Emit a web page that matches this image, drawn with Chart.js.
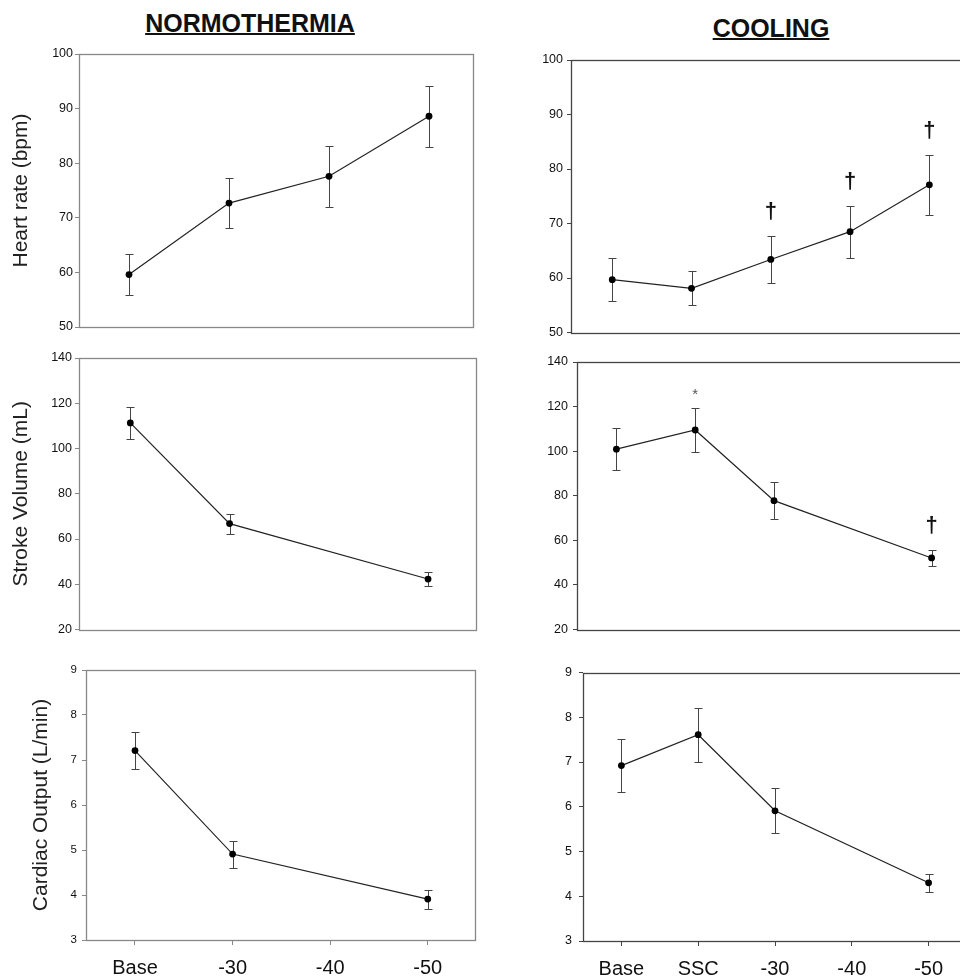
<!DOCTYPE html>
<html>
<head>
<meta charset="utf-8">
<script src="https://cdn.jsdelivr.net/npm/chart.js@4.4.0/dist/chart.umd.min.js"></script>
<style>
html, body { margin: 0; padding: 0; background: #fff; overflow: hidden; }
#fig { position: relative; width: 960px; height: 979px; overflow: hidden; background: #fff; }
#fig canvas { position: absolute; }
.col-title {
    position: absolute;
    transform: translateX(-50%);
    font: bold 25px 'Liberation Sans', Arial, sans-serif;
    line-height: 25px;
    color: #111;
    text-decoration: underline;
    text-decoration-thickness: 2px;
    text-underline-offset: 1px;
    white-space: nowrap;
}
</style>
</head>
<body>
<div id="fig">
    <div class="col-title" style="left:250px; top:11px;">NORMOTHERMIA</div>
    <div class="col-title" style="left:771px; top:16px;">COOLING</div>
</div>

<script>
// categories
const normCategories = ['Base', '-30', '-40', '-50'];
const coolCategories = ['Base', 'SSC', '-30', '-40', '-50'];

// tick labels
const hrTicks = [50, 60, 70, 80, 90, 100];
const svTicks = [20, 40, 60, 80, 100, 120, 140];
const coTicks = [3, 4, 5, 6, 7, 8, 9];

// normothermia (mean, error)
const normHr = [59.6, 72.7, 77.6, 88.6];
const normHrErr = [3.8, 4.5, 5.6, 5.6];
const normSv = [111.3, 66.8, null, 42.3];
const normSvErr = [6.9, 4.4, null, 3.2];
const normCo = [7.21, 4.91, null, 3.91];
const normCoErr = [0.41, 0.3, null, 0.21];

// cooling (mean, error)
const coolHr = [59.7, 58.1, 63.4, 68.5, 77.1];
const coolHrErr = [4.0, 3.1, 4.3, 4.8, 5.5];
const coolSv = [100.9, 109.5, 77.8, null, 52.1];
const coolSvErr = [9.5, 10.0, 8.2, null, 3.5];
const coolCo = [6.92, 7.61, 5.91, null, 4.3];
const coolCoErr = [0.6, 0.6, 0.5, null, 0.2];

// significance marks
const coolHrMarks = ['', '', '†', '†', '†'];
const coolSvMarks = ['', '*', '', '', '†'];

const FONT = "'Liberation Sans', Arial, sans-serif";
Chart.defaults.font.family = FONT;

// error bars + marks above them
const errorBars = {
    id: 'errorBars',
    beforeDatasetsDraw(chart, args, opts) {
        const ctx = chart.ctx;
        const x = chart.scales.x, y = chart.scales.y;
        ctx.save();
        ctx.strokeStyle = '#444';
        ctx.lineWidth = 1;
        opts.values.forEach((v, i) => {
            if (v == null) return;
            const e = opts.errs[i];
            const px = Math.round(x.getPixelForValue(i)) + 0.5;
            const top = Math.round(y.getPixelForValue(v + e)) + 0.5;
            const bot = Math.round(y.getPixelForValue(v - e)) + 0.5;
            ctx.beginPath();
            ctx.moveTo(px, top); ctx.lineTo(px, bot);
            ctx.moveTo(px - 4, top); ctx.lineTo(px + 4, top);
            ctx.moveTo(px - 4, bot); ctx.lineTo(px + 4, bot);
            ctx.stroke();
        });
        ctx.restore();
    },
    afterDatasetsDraw(chart, args, opts) {
        if (!opts.marks) return;
        const ctx = chart.ctx;
        const x = chart.scales.x, y = chart.scales.y;
        ctx.save();
        ctx.textAlign = 'center';
        ctx.textBaseline = 'middle';
        opts.marks.forEach((m, i) => {
            if (!m) return;
            const v = opts.values[i], e = opts.errs[i];
            const px = x.getPixelForValue(i);
            const top = y.getPixelForValue(v + e);
            if (m === '*') {
                ctx.font = '15px ' + FONT;
                ctx.fillStyle = '#555';
                ctx.fillText(m, px, top - 13);
            } else {
                ctx.font = 'bold 22px ' + FONT;
                ctx.fillStyle = '#111';
                ctx.fillText(m, px, top - 24);
            }
        });
        ctx.restore();
    }
};

// box around plot area
const frame = {
    id: 'frame',
    beforeDatasetsDraw(chart, args, opts) {
        const a = chart.chartArea;
        const ctx = chart.ctx;
        ctx.save();
        ctx.strokeStyle = opts.color;
        ctx.lineWidth = 1.3;
        const l = Math.round(a.left) + 0.5, t = Math.round(a.top) + 0.5;
        const r = Math.round(a.right) + 0.5, b = Math.round(a.bottom) + 0.5;
        ctx.strokeRect(l, t, r - l, b - t);
        ctx.restore();
    }
};

const panels = [
    { col: 0, box: [79, 54, 473, 327], xRange: [-0.5, 3.44], cats: normCategories,
      values: normHr, errs: normHrErr, ticks: hrTicks, title: 'Heart rate (bpm)', titlePad: 9,
      tickPad: 2, tickSize: 12.5, color: '#888', bottomAxis: false },
    { col: 0, box: [79, 358, 479, 630], xRange: [-0.517, 3.483], cats: normCategories,
      values: normSv, errs: normSvErr, ticks: svTicks, title: 'Stroke Volume (mL)', titlePad: 9,
      tickPad: 3, tickSize: 12.5, color: '#888', bottomAxis: false },
    { col: 0, box: [86, 670, 475, 940], xRange: [-0.502, 3.484], cats: normCategories,
      values: normCo, errs: normCoErr, ticks: coTicks, title: 'Cardiac Output (L/min)', titlePad: 29,
      tickPad: 5, tickSize: 11.5, color: '#888', bottomAxis: true },
    { col: 1, box: [571, 60, 969, 334], xRange: [-0.52, 4.5], cats: coolCategories,
      values: coolHr, errs: coolHrErr, marks: coolHrMarks, ticks: hrTicks,
      tickPad: 4, tickSize: 12.5, color: '#444', bottomAxis: false },
    { col: 1, box: [577, 362, 971, 632], xRange: [-0.5, 4.5], cats: coolCategories,
      values: coolSv, errs: coolSvErr, marks: coolSvMarks, ticks: svTicks,
      tickPad: 5, tickSize: 12.5, color: '#444', bottomAxis: false },
    { col: 1, box: [583, 672, 967, 941], xRange: [-0.5, 4.5], cats: coolCategories,
      values: coolCo, errs: coolCoErr, ticks: coTicks,
      tickPad: 7, tickSize: 12.5, color: '#444', bottomAxis: true }
];

function makePanel(p) {
    const canvasX = p.col === 0 ? 0 : 480;
    const canvasW = p.col === 0 ? 480 : 520;
    const xh = p.bottomAxis ? 39 : 0;
    const padBottom = p.bottomAxis ? 0 : 10;
    const canvasY = p.box[1] - 14;
    const canvasH = p.box[3] - p.box[1] + 14 + xh + padBottom;

    const cv = document.createElement('canvas');
    cv.width = canvasW;
    cv.height = canvasH;
    cv.style.left = canvasX + 'px';
    cv.style.top = canvasY + 'px';
    cv.style.width = canvasW + 'px';
    cv.style.height = canvasH + 'px';
    document.getElementById('fig').appendChild(cv);

    const points = p.values.map((v, i) => ({ x: i, y: v })).filter(d => d.y != null);

    new Chart(cv, {
        type: 'line',
        data: {
            datasets: [{
                data: points,
                borderColor: '#222',
                borderWidth: 1.2,
                pointRadius: 3.4,
                pointBackgroundColor: '#000',
                pointBorderColor: '#000',
                pointBorderWidth: 0,
                tension: 0
            }]
        },
        options: {
            responsive: false,
            animation: false,
            devicePixelRatio: 1,
            layout: {
                padding: { top: 14, left: 0, bottom: padBottom, right: canvasX + canvasW - p.box[2] }
            },
            plugins: {
                legend: { display: false },
                tooltip: { enabled: false },
                errorBars: { values: p.values, errs: p.errs, marks: p.marks || null },
                frame: { color: p.color }
            },
            scales: {
                x: {
                    type: 'linear',
                    min: p.xRange[0],
                    max: p.xRange[1],
                    afterBuildTicks: s => { s.ticks = p.cats.map((c, i) => ({ value: i })); },
                    afterFit: s => { s.height = xh; },
                    border: { display: false },
                    grid: { drawOnChartArea: false, drawTicks: p.bottomAxis, tickLength: 5, tickColor: p.color },
                    ticks: {
                        display: p.bottomAxis,
                        autoSkip: false,
                        maxRotation: 0,
                        padding: 11,
                        color: '#111',
                        font: { size: 20 },
                        callback: v => p.cats[v]
                    }
                },
                y: {
                    min: p.ticks[0],
                    max: p.ticks[p.ticks.length - 1],
                    afterBuildTicks: s => { s.ticks = p.ticks.map(v => ({ value: v })); },
                    afterFit: s => { s.width = p.box[0] - canvasX; },
                    border: { display: false },
                    grid: { drawOnChartArea: false, tickLength: 4, tickColor: p.color },
                    ticks: { padding: p.tickPad, color: '#111', font: { size: p.tickSize } },
                    title: p.title ? {
                        display: true,
                        text: p.title,
                        color: '#222',
                        font: { size: 21 },
                        padding: { top: p.titlePad, bottom: 0 }
                    } : { display: false }
                }
            }
        },
        plugins: [errorBars, frame]
    });
}

panels.forEach(makePanel);
</script>
</body>
</html>
